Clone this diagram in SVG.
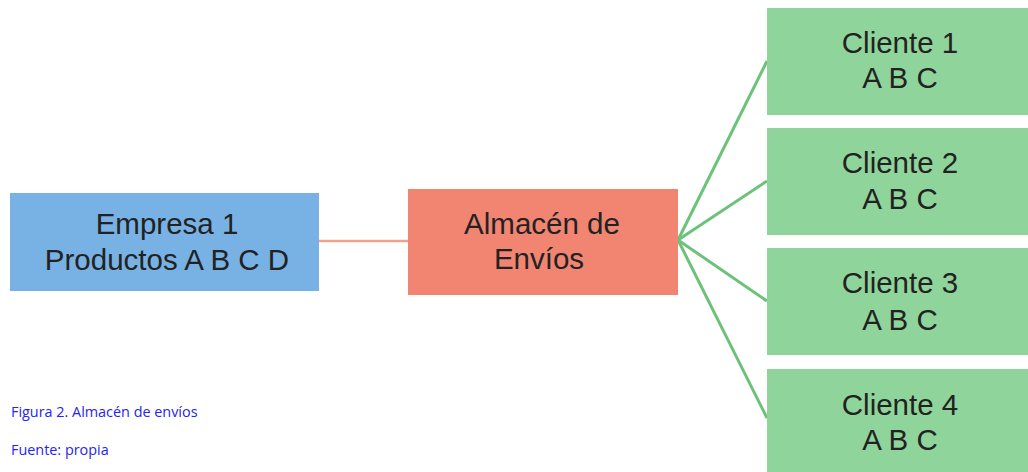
<svg xmlns="http://www.w3.org/2000/svg" width="1028" height="472" viewBox="0 0 1028 472">
<style>
.lbl{font-family:"Liberation Sans",Arial,Helvetica,sans-serif;font-size:29.5px;fill:#222;text-anchor:middle}
.cap{font-family:"Open Sans","Noto Sans",sans-serif;font-size:14.4px;fill:#2424f2}
.cl{fill:#8fd59b}
.g{stroke:#6cc27b;stroke-width:3;fill:none}
</style>
<rect width="1028" height="472" fill="#fff"/>
<g id="connectors">
<line x1="319" y1="241" x2="408" y2="241" stroke="#f3a08f" stroke-width="2.5"/>
<line class="g" x1="678" y1="240" x2="767" y2="61"/>
<line class="g" x1="678" y1="240" x2="767" y2="181"/>
<line class="g" x1="678" y1="240" x2="767" y2="301"/>
<line class="g" x1="678" y1="240" x2="767" y2="418"/>
</g>
<g id="empresa">
<rect x="10" y="193" width="309" height="98" fill="#78b2e4"/>
<text class="lbl" x="167" y="234">Empresa 1</text>
<text class="lbl" x="167" y="270">Productos A B C D</text>
</g>
<g id="almacen">
<rect x="408" y="189" width="270" height="106" fill="#f18572"/>
<text class="lbl" x="542" y="234">Almacén de</text>
<text class="lbl" x="539" y="269">Envíos</text>
</g>
<g id="cliente1">
<rect class="cl" x="767" y="8" width="265" height="107"/>
<text class="lbl" x="900" y="53">Cliente 1</text>
<text class="lbl" x="900" y="88">A B C</text>
</g>
<g id="cliente2">
<rect class="cl" x="767" y="128" width="265" height="107"/>
<text class="lbl" x="900" y="173">Cliente 2</text>
<text class="lbl" x="900" y="209">A B C</text>
</g>
<g id="cliente3">
<rect class="cl" x="767" y="248" width="265" height="107"/>
<text class="lbl" x="900" y="293">Cliente 3</text>
<text class="lbl" x="900" y="330">A B C</text>
</g>
<g id="cliente4">
<rect class="cl" x="767" y="369" width="265" height="110"/>
<text class="lbl" x="900" y="415">Cliente 4</text>
<text class="lbl" x="900" y="450">A B C</text>
</g>
<g id="caption">
<text class="cap" x="11" y="417">Figura 2. Almacén de envíos</text>
<text class="cap" x="11" y="455">Fuente: propia</text>
</g>
</svg>
